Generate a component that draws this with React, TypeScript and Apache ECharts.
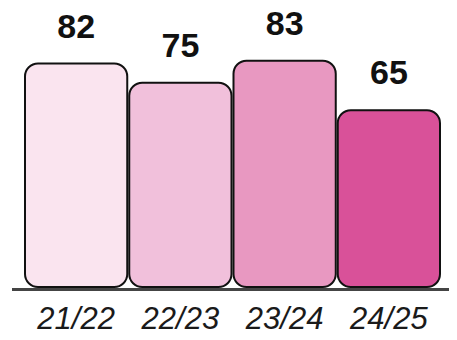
import React, { useEffect, useRef } from "react";
import * as echarts from "echarts";

const categories = ["21/22", "22/23", "23/24", "24/25"];
const values = [82, 75, 83, 65];
const barColors = ["#fae4ef", "#f1c0db", "#e898c1", "#d95199"];

export default function App() {
  const ref = useRef<HTMLDivElement>(null);
  useEffect(() => {
    if (!ref.current) return;
    const chart = echarts.init(ref.current, null, { renderer: "svg" });
    const font = "'Liberation Sans', Arial, Helvetica, sans-serif";
    chart.setOption({
      animation: false,
      grid: { left: 24, right: 16, top: 13, bottom: 52 },
      xAxis: {
        type: "category",
        data: categories,
        axisLine: { show: false },
        axisTick: { show: false },
        axisLabel: {
          fontFamily: font,
          fontSize: 31,
          fontStyle: "italic",
          fontWeight: 300,
          color: "#1a1a1a",
          margin: 15,
        },
      },
      yAxis: {
        type: "value",
        min: 0,
        max: 100,
        show: false,
        splitLine: { show: false },
      },
      series: [
        {
          type: "bar",
          barCategoryGap: "0%",
          data: values.map((v, i) => ({
            value: v,
            itemStyle: { color: barColors[i] },
          })),
          itemStyle: {
            borderColor: "#111",
            borderWidth: 2,
            borderRadius: 13,
          },
          label: {
            show: true,
            position: "top",
            distance: 20,
            fontFamily: font,
            fontSize: 34,
            fontWeight: "bold",
            color: "#111",
          },
        },
      ],
      graphic: [
        {
          type: "line",
          shape: { x1: 12, y1: 289.5, x2: 457, y2: 289.5 },
          style: { stroke: "#444", lineWidth: 3 },
          z: 10,
        },
      ],
    });
    return () => chart.dispose();
  }, []);
  return <div ref={ref} style={{ width: 457, height: 340, margin: -8 }} />;
}
